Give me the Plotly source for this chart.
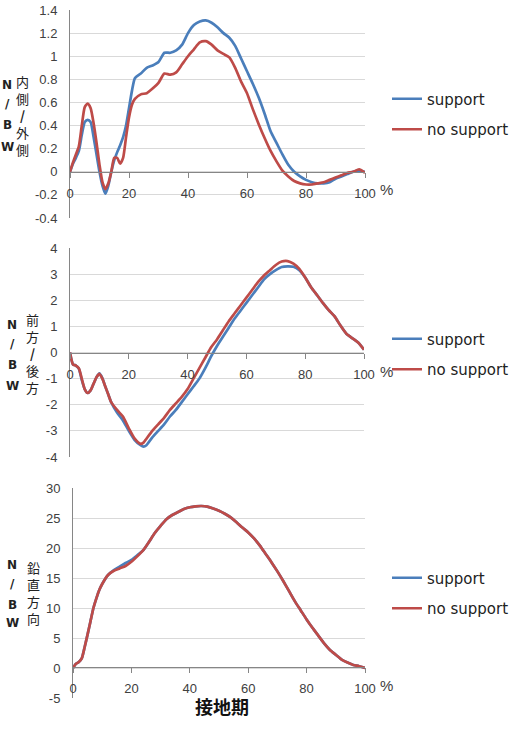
import plotly.graph_objects as go

# ---------------- data ----------------
series_names = ["support", "no support"]
x_ticks = [0, 20, 40, 60, 80, 100]
x_ticktext = ["0", "20", "40", "60", "80", "100"]

# Panel 1: medial / lateral
x1 = [0, 1, 2, 3, 4, 5, 6, 7, 8, 9, 10, 11, 12, 13, 14, 15, 16, 17, 18, 19, 20, 21, 22,
      24, 26, 28, 30, 32, 34, 36, 38, 40, 42, 44, 46, 48, 50, 52, 54, 56, 58, 60, 62, 64,
      66, 68, 70, 72, 74, 76, 78, 80, 82, 84, 86, 88, 90, 92, 94, 96, 98, 100]
ml_support = [0.0, 0.07, 0.12, 0.18, 0.32, 0.43, 0.45, 0.43, 0.30, 0.15, 0.0, -0.12, -0.19,
              -0.12, 0.0, 0.10, 0.17, 0.23, 0.30, 0.40, 0.55, 0.70, 0.81,
              0.85, 0.90, 0.92, 0.95, 1.03, 1.03, 1.05, 1.10, 1.20, 1.27, 1.30, 1.31, 1.29,
              1.25, 1.20, 1.16, 1.09, 0.98, 0.87, 0.76, 0.64, 0.50, 0.35, 0.25, 0.15, 0.06,
              0.0, -0.04, -0.07, -0.09, -0.10, -0.10, -0.09, -0.06, -0.04, -0.02, 0.0, 0.01, 0.0]
ml_nosupport = [0.0, 0.08, 0.15, 0.22, 0.40, 0.56, 0.59, 0.55, 0.42, 0.25, 0.06, -0.09, -0.15,
                -0.10, 0.0, 0.12, 0.12, 0.07, 0.12, 0.30, 0.47, 0.58, 0.63,
                0.67, 0.68, 0.72, 0.77, 0.85, 0.84, 0.86, 0.93, 1.0, 1.06, 1.12, 1.13, 1.10,
                1.05, 1.02, 0.99, 0.90, 0.78, 0.68, 0.54, 0.41, 0.29, 0.18, 0.09, 0.01, -0.04,
                -0.08, -0.10, -0.11, -0.11, -0.10, -0.09, -0.07, -0.05, -0.03, -0.01, 0.0, 0.02, -0.01]
y1_ticks = [-0.4, -0.2, 0, 0.2, 0.4, 0.6, 0.8, 1.0, 1.2, 1.4]
y1_ticktext = ["-0.4", "-0.2", "0", "0.2", "0.4", "0.6", "0.8", "1", "1.2", "1.4"]

# Panel 2: anterior / posterior
x2 = [0, 1, 2, 3, 4, 5, 6, 7, 8, 9, 10, 11, 12, 13, 14, 16, 18, 20, 22, 24, 25, 26, 28, 30,
      32, 34, 36, 38, 40, 42, 44, 46, 48, 50, 52, 54, 56, 58, 60, 62, 64, 66, 68, 70, 72, 74,
      76, 78, 80, 82, 84, 86, 88, 90, 92, 94, 96, 98, 100]
ap_support = [0.0, -0.45, -0.5, -0.62, -1.05, -1.4, -1.55, -1.45, -1.2, -0.95, -0.8, -0.98,
              -1.3, -1.6, -1.9, -2.3, -2.6, -3.0, -3.35, -3.55, -3.6, -3.55, -3.25, -3.0,
              -2.75, -2.45, -2.2, -1.9, -1.6, -1.3, -1.0, -0.6, -0.15, 0.25, 0.6, 0.95, 1.3,
              1.6, 1.9, 2.2, 2.5, 2.8, 3.0, 3.15, 3.27, 3.3, 3.28, 3.15, 2.87, 2.5, 2.2, 1.9,
              1.62, 1.38, 1.03, 0.72, 0.55, 0.38, 0.11]
ap_nosupport = [0.0, -0.45, -0.5, -0.6, -1.0, -1.4, -1.55, -1.45, -1.2, -0.95, -0.82, -1.0,
                -1.3, -1.6, -1.9, -2.2, -2.45, -2.9, -3.3, -3.5, -3.45, -3.3, -3.0, -2.75,
                -2.5, -2.2, -1.95, -1.7, -1.4, -1.0, -0.6, -0.2, 0.2, 0.5, 0.85, 1.2, 1.5,
                1.8, 2.1, 2.4, 2.7, 2.95, 3.15, 3.35, 3.48, 3.5, 3.4, 3.2, 2.87, 2.5, 2.2, 1.9,
                1.62, 1.38, 1.03, 0.72, 0.55, 0.38, 0.11]
y2_ticks = [-4, -3, -2, -1, 0, 1, 2, 3, 4]
y2_ticktext = ["-4", "-3", "-2", "-1", "0", "1", "2", "3", "4"]

# Panel 3: vertical
x3 = [0, 1, 2, 3, 4, 5, 6, 7, 8, 9, 10, 12, 14, 16, 18, 20, 22, 24, 26, 28, 30, 32, 34, 36,
      38, 40, 42, 44, 46, 48, 50, 52, 54, 56, 58, 60, 62, 64, 66, 68, 70, 72, 74, 76, 78, 80,
      82, 84, 86, 88, 90, 92, 94, 96, 98, 100]
v_support = [0.0, 0.7, 1.0, 1.6, 3.5, 5.6, 7.8, 10.0, 11.6, 13.0, 14.0, 15.5, 16.3, 16.9,
             17.5, 18.0, 18.8, 19.6, 21.0, 22.5, 23.7, 24.8, 25.5, 26.0, 26.5, 26.8, 26.95,
             27.0, 26.9, 26.6, 26.2, 25.7, 25.1, 24.3, 23.4, 22.6, 21.6, 20.4, 19.0, 17.6,
             16.1, 14.5, 12.8, 11.1, 9.6, 8.1, 6.7, 5.4, 4.1, 3.0, 2.2, 1.4, 0.9, 0.5, 0.3, 0.0]
v_nosupport = [0.0, 0.7, 1.0, 1.6, 3.5, 5.6, 7.8, 10.0, 11.6, 13.0, 14.0, 15.5, 16.2, 16.6,
               17.0, 17.7, 18.6, 19.6, 21.0, 22.5, 23.7, 24.8, 25.5, 26.0, 26.5, 26.8, 26.95,
               27.0, 26.9, 26.6, 26.2, 25.7, 25.1, 24.3, 23.4, 22.6, 21.6, 20.4, 19.0, 17.6,
               16.1, 14.5, 12.8, 11.1, 9.6, 8.1, 6.7, 5.4, 4.1, 3.0, 2.2, 1.4, 0.9, 0.5, 0.3, 0.0]
y3_ticks = [-5, 0, 5, 10, 15, 20, 25, 30]
y3_ticktext = ["-5", "0", "5", "10", "15", "20", "25", "30"]

unit_label = ["N", "/", "B", "W"]
panel_labels = [["内", "側", "/", "外", "側"],
                ["前", "方", "/", "後", "方"],
                ["鉛", "直", "方", "向"]]
x_title = "接地期"
pct = "%"

# ---------------- layout ----------------
W, H = 523, 737
BLUE = "#4A7EBB"
RED = "#BE4B48"
AXC = "#868686"
GRID = "#D9D9D9"
TXT = "#404040"

def px(v):
    return v / W

def py(v):
    return 1 - v / H

panels = [
    dict(x=x1, ys=[ml_support, ml_nosupport], yr=[-0.4, 1.4], yt=y1_ticks, ytt=y1_ticktext,
         xpx=(70, 365), ypx=(10, 218), zero_px=172, leg_px=114),
    dict(x=x2, ys=[ap_support, ap_nosupport], yr=[-4, 4], yt=y2_ticks, ytt=y2_ticktext,
         xpx=(70, 364), ypx=(248, 457), zero_px=353, leg_px=354),
    dict(x=x3, ys=[v_support, v_nosupport], yr=[-5, 30], yt=y3_ticks, ytt=y3_ticktext,
         xpx=(73, 365), ypx=(488, 698), zero_px=667, leg_px=593),
]

fig = go.Figure()
layout = dict(width=W, height=H, margin=dict(l=0, r=0, t=0, b=0, pad=0, autoexpand=False),
              paper_bgcolor="white", plot_bgcolor="white",
              font=dict(family="Liberation Sans, Arial, sans-serif", color=TXT, size=13))
annotations = []

for i, p in enumerate(panels):
    n = "" if i == 0 else str(i + 1)
    xa, ya = "x" + n, "y" + n
    leg = "legend" + n
    for name, yv, col in zip(series_names, p["ys"], [BLUE, RED]):
        fig.add_trace(go.Scatter(x=p["x"], y=yv, mode="lines", name=name,
                                 line=dict(color=col, width=2.7, shape="spline", smoothing=0.6),
                                 xaxis=xa, yaxis=ya, legend=leg, legendgroup=f"{i}{name}"))
    layout["xaxis" + n] = dict(domain=[px(p["xpx"][0]), px(p["xpx"][1])], range=[0, 100],
                               anchor="free", position=py(p["zero_px"]), showgrid=False,
                               zeroline=False, showline=True, linecolor=AXC, linewidth=1,
                               ticks="outside", ticklen=5, tickcolor=AXC, tickvals=x_ticks,
                               ticktext=x_ticktext, ticklabelstandoff=4, automargin=False,
                               tickfont=dict(size=13, color=TXT))
    layout["yaxis" + n] = dict(domain=[py(p["ypx"][1]), py(p["ypx"][0])], range=p["yr"],
                               anchor=xa, showgrid=True, gridcolor=GRID, gridwidth=1,
                               zeroline=False, showline=True, linecolor=AXC, linewidth=1,
                               ticks="", tickvals=p["yt"], ticktext=p["ytt"], automargin=False,
                               ticklabelstandoff=9, tickfont=dict(size=13, color=TXT))
    layout[leg] = dict(x=px(387), xanchor="left", y=py(p["leg_px"]), yanchor="middle",
                       bgcolor="rgba(0,0,0,0)", tracegroupgap=8, traceorder="grouped",
                       font=dict(family="DejaVu Sans, sans-serif", size=15, color="#222222"))
    # percent sign
    annotations.append(dict(text=pct, x=px(386), y=py(p["zero_px"] + 18), xref="paper",
                            yref="paper", showarrow=False, font=dict(size=15, color=TXT),
                            xanchor="center", yanchor="middle"))

# unit labels N / B W and the stacked Japanese axis titles, one glyph per position
unit_y = [[85, 104, 125, 147], [325, 344, 365, 386], [565, 584, 605, 623]]
unit_x = [7, 12, 12]
cjk_center = [116, 353.5, 593]
cjk_x = [22, 32, 33]
cjk_step = 17
for i in range(3):
    for ch, yy in zip(unit_label, unit_y[i]):
        annotations.append(dict(text=f"<b>{ch}</b>", x=px(unit_x[i]), y=py(yy), xref="paper",
                                yref="paper", showarrow=False, xanchor="center", yanchor="middle",
                                borderpad=0,
                                font=dict(family="DejaVu Sans, sans-serif", size=12, color="#222222")))
    chars = panel_labels[i]
    y0 = cjk_center[i] - cjk_step * (len(chars) - 1) / 2
    for k, c in enumerate(chars):
        txt = f"<b>{c}</b>" if c == "/" else c
        annotations.append(dict(text=txt, x=px(cjk_x[i]), y=py(y0 + k * cjk_step), xref="paper",
                                yref="paper", showarrow=False, xanchor="center", yanchor="middle",
                                borderpad=0,
                                font=dict(family="Noto Sans CJK JP, sans-serif", size=13, color="#222222")))

annotations.append(dict(text=f"<b>{x_title}</b>", x=px(222), y=py(706), xref="paper", yref="paper",
                        showarrow=False, xanchor="center", yanchor="middle", borderpad=0,
                        font=dict(family="Noto Sans CJK JP, sans-serif", size=18, color="#111111")))

layout["annotations"] = annotations
fig.update_layout(**layout)
fig.write_html("out.html")
